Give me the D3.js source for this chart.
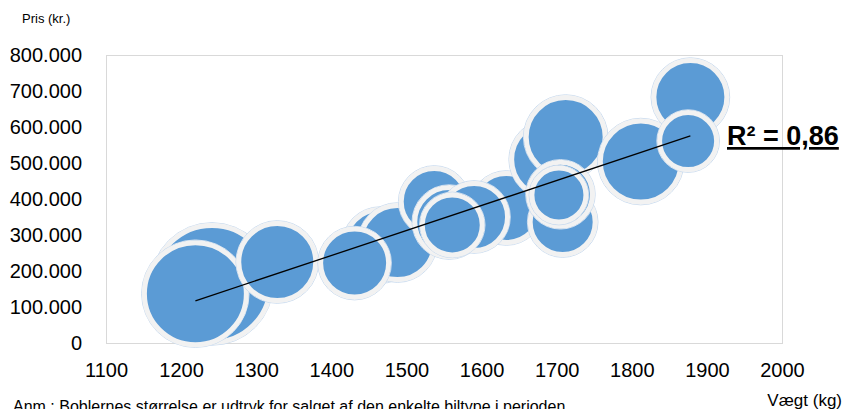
<!DOCTYPE html>
<html>
<head>
<meta charset="utf-8">
<script src="https://cdn.jsdelivr.net/npm/d3@7"></script>
<style>
  html, body { margin: 0; padding: 0; background: #ffffff; }
  svg { display: block; font-family: "Liberation Sans", Arial, sans-serif; }
</style>
</head>
<body>
<svg id="chart" width="848" height="409"></svg>
<script>
// Car models: curb weight (kg), price (kr.) and sales in the period (bubble size).
// Listed in drawing order, back to front.
const weights = [1241, 1219, 1328, 1465, 1488, 1431, 1537, 1633, 1557, 1590, 1561,
                 1690, 1712, 1708, 1705, 1703, 1812, 1878, 1875];
const prices  = [164000, 137000, 225000, 272000, 279000, 222000, 393000, 375000, 336000,
                 350000, 328000, 510000, 572000, 336000, 413000, 411000, 504000, 683000, 561000];
const sales   = [10270, 7800, 4450, 3780, 4110, 3470, 3270, 3570, 3570, 3370, 2700,
                 4220, 4680, 3170, 3070, 2190, 4920, 4000, 2440];

const xTicks = [1100, 1200, 1300, 1400, 1500, 1600, 1700, 1800, 1900, 2000];
const yTicks = [0, 100000, 200000, 300000, 400000, 500000, 600000, 700000, 800000];
const rSquared = 0.86;

const svg = d3.select("#chart");

const plot = { left: 106, right: 782, top: 55, bottom: 343 };

const x = d3.scaleLinear().domain([1100, 2000]).range([plot.left, plot.right]);
const y = d3.scaleLinear().domain([0, 800000]).range([plot.bottom, plot.top]);
const r = d3.scaleSqrt().domain([0, d3.max(sales)]).range([0, 58.5]);

// Danish number format: dot as thousands separator
const fmtDa = d3.formatLocale({ decimal: ",", thousands: ".", grouping: [3], currency: ["", " kr."] });
const fmtPrice = fmtDa.format(",d");

// Plot area frame
svg.append("rect")
  .attr("x", plot.left + 0.5).attr("y", plot.top + 0.5)
  .attr("width", plot.right - plot.left).attr("height", plot.bottom - plot.top)
  .attr("fill", "none").attr("stroke", "#D9D9D9").attr("stroke-width", 1);

// Axes
const yAxis = svg.append("g")
  .attr("transform", `translate(${plot.left},0)`)
  .call(d3.axisLeft(y).tickValues(yTicks).tickSize(0).tickPadding(24).tickFormat(fmtPrice));
const xAxis = svg.append("g")
  .attr("transform", `translate(0,${plot.bottom})`)
  .call(d3.axisBottom(x).tickValues(xTicks).tickSize(0).tickPadding(20).tickFormat(d3.format("d")));
[xAxis, yAxis].forEach(g => {
  g.select(".domain").remove();
  g.selectAll("text").attr("font-size", 20).attr("fill", "#000")
    .attr("font-family", "'Liberation Sans', Arial, sans-serif");
});

// Bubbles
const data = weights.map((w, i) => ({ w, p: prices[i], s: sales[i] }));
const bubbles = svg.append("g").selectAll("g").data(data).join("g");
bubbles.append("circle")
  .attr("cx", d => x(d.w)).attr("cy", d => y(d.p))
  .attr("r", d => r(d.s) + 2.8)
  .attr("fill", "none").attr("stroke", "#C9DBEF").attr("stroke-width", 1);
bubbles.append("circle")
  .attr("cx", d => x(d.w)).attr("cy", d => y(d.p))
  .attr("r", d => r(d.s))
  .attr("fill", "#5B9BD5").attr("stroke", "#F2F2F2").attr("stroke-width", 5);

// Linear trend line (least squares) over the weight range
const mx = d3.mean(weights), my = d3.mean(prices);
const slope = d3.sum(weights, (w, i) => (w - mx) * (prices[i] - my)) /
              d3.sum(weights, w => (w - mx) * (w - mx));
const intercept = my - slope * mx;
const [w0, w1] = d3.extent(weights);
svg.append("line")
  .attr("x1", x(w0)).attr("y1", y(intercept + slope * w0))
  .attr("x2", x(w1)).attr("y2", y(intercept + slope * w1))
  .attr("stroke", "#000").attr("stroke-width", 1.3);

// R² label
svg.append("text")
  .attr("x", 727).attr("y", 145)
  .attr("font-size", 27).attr("font-weight", "bold")
  .style("text-decoration", "underline")
  .text("R² = " + d3.format(".2f")(rSquared).replace(".", ","));

// Axis titles and note
svg.append("text").attr("x", 22).attr("y", 23).attr("font-size", 13).text("Pris (kr.)");
svg.append("text").attr("x", 842).attr("y", 406).attr("font-size", 17)
  .attr("text-anchor", "end").text("Vægt (kg)");
svg.append("text").attr("x", 13).attr("y", 412).attr("font-size", 16)
  .text("Anm.: Boblernes størrelse er udtryk for salget af den enkelte biltype i perioden.");
</script>
</body>
</html>
